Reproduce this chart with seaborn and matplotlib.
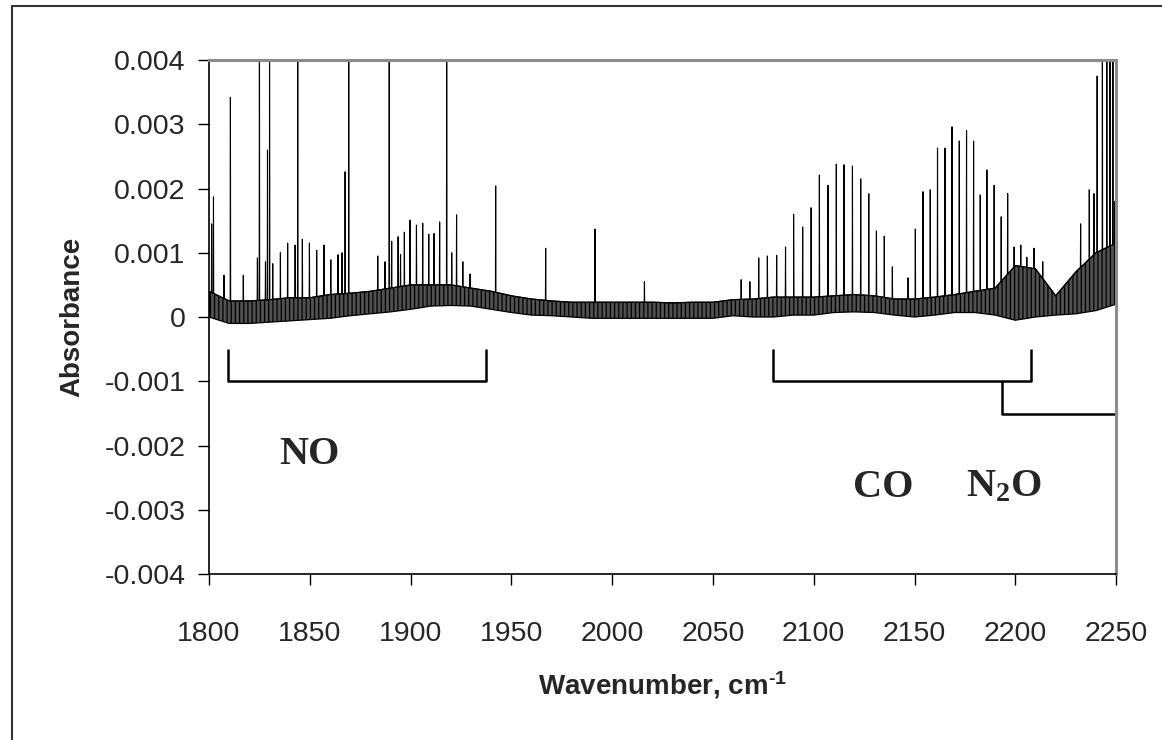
import matplotlib
matplotlib.use("Agg")
import matplotlib.pyplot as plt
import numpy as np
import pandas as pd
import seaborn as sns

# baseline noise band, read every 10 cm-1 (absorbance x 1e-3)
env_x = [1800, 1810, 1820, 1830, 1840, 1850, 1860, 1870, 1880, 1890,
         1900, 1910, 1920, 1930, 1940, 1950, 1960, 1970, 1980, 1990,
         2000, 2010, 2020, 2030, 2040, 2050, 2060, 2070, 2080, 2090,
         2100, 2110, 2120, 2130, 2140, 2150, 2160, 2170, 2180, 2190,
         2200, 2210, 2220, 2230, 2240, 2250]
env_lo = [0.00, -0.10, -0.10, -0.08, -0.06, -0.04, -0.02, 0.02, 0.05, 0.08,
          0.12, 0.17, 0.18, 0.17, 0.12, 0.07, 0.03, 0.02, 0.00, -0.02,
          -0.02, -0.02, -0.02, -0.02, -0.02, -0.02, 0.02, 0.00, 0.00, 0.03,
          0.03, 0.07, 0.08, 0.07, 0.03, 0.00, 0.03, 0.07, 0.07, 0.03,
          -0.05, 0.00, 0.03, 0.05, 0.10, 0.20]
env_hi = [0.40, 0.25, 0.25, 0.27, 0.30, 0.30, 0.35, 0.37, 0.40, 0.45,
          0.50, 0.50, 0.50, 0.45, 0.40, 0.33, 0.28, 0.25, 0.23, 0.23,
          0.23, 0.23, 0.23, 0.22, 0.23, 0.23, 0.27, 0.28, 0.31, 0.31,
          0.31, 0.33, 0.35, 0.33, 0.28, 0.28, 0.31, 0.35, 0.40, 0.45,
          0.80, 0.75, 0.33, 0.70, 1.00, 1.15]

# absorption lines (position cm-1, peak absorbance x 1e-3)
peak_x = [1801.3, 1802.2, 1807.4, 1810.6, 1817.0, 1824.0, 1825.0, 1828.0, 1829.0, 1830.0,
          1831.6, 1835.4, 1839.0, 1842.7, 1844.0, 1846.3, 1849.8, 1853.4, 1857.0, 1860.4,
          1864.0, 1866.0, 1867.5, 1869.3, 1883.7, 1887.3, 1889.4, 1890.6, 1893.8, 1895.0,
          1896.9, 1899.7, 1902.9, 1906.0, 1909.0, 1911.6, 1914.4, 1917.9, 1920.4, 1922.8,
          1925.9, 1929.5, 1942.2, 1967.0, 1991.5, 2016.0, 2064.0, 2068.3, 2072.7, 2077.0,
          2081.6, 2086.0, 2090.0, 2094.5, 2098.7, 2102.8, 2107.1, 2111.2, 2115.0, 2119.2,
          2123.3, 2127.3, 2131.1, 2135.0, 2139.0, 2146.8, 2150.4, 2154.2, 2157.8, 2161.4,
          2165.1, 2168.6, 2172.2, 2175.8, 2179.3, 2182.6, 2185.9, 2189.5, 2193.0, 2196.2,
          2199.4, 2202.7, 2205.7, 2209.3, 2213.6, 2232.4, 2236.7, 2239.0, 2240.6, 2243.2,
          2245.4, 2247.0, 2248.4, 2249.3]
peak_y = [1.45, 1.87, 0.65, 3.42, 0.65, 0.92, 5.0, 0.86, 2.60, 5.0,
          0.83, 1.00, 1.15, 1.12, 5.0, 1.21, 1.15, 1.04, 1.12, 0.89,
          0.97, 1.00, 2.26, 5.0, 0.95, 0.86, 5.0, 1.18, 1.25, 0.97,
          1.32, 1.51, 1.43, 1.46, 1.29, 1.30, 1.48, 5.0, 1.00, 1.59,
          0.86, 0.67, 2.04, 1.07, 1.37, 0.55, 0.58, 0.55, 0.92, 0.95,
          0.96, 1.09, 1.60, 1.40, 1.70, 2.21, 2.05, 2.38, 2.37, 2.35,
          2.15, 1.92, 1.34, 1.26, 0.78, 0.61, 1.37, 1.95, 1.98, 2.63,
          2.63, 2.96, 2.74, 2.90, 2.74, 1.90, 2.29, 2.05, 1.56, 1.92,
          1.09, 1.12, 0.93, 1.07, 0.86, 1.45, 1.98, 1.92, 3.75, 5.0,
          5.0, 5.0, 5.0, 1.80]

y_ticks = [-0.004, -0.003, -0.002, -0.001, 0, 0.001, 0.002, 0.003, 0.004]
y_tick_labels = ["-0.004", "-0.003", "-0.002", "-0.001", "0",
                 "0.001", "0.002", "0.003", "0.004"]
x_ticks = [1800, 1850, 1900, 1950, 2000, 2050, 2100, 2150, 2200, 2250]

sns.set_style("white")
plt.rcParams["font.family"] = ["Liberation Sans", "DejaVu Sans"]
plt.rcParams["mathtext.default"] = "regular"
plt.rcParams["hatch.linewidth"] = 0.9

ex = np.array(env_x, dtype=float)
lo = np.array(env_lo) * 1e-3
hi = np.array(env_hi) * 1e-3
px = np.array(peak_x)
py = np.array(peak_y) * 1e-3

# one trace: upper edge of the band with the lines sticking out of it
base = np.interp(px, ex, hi)
tx = np.concatenate([ex, px - 0.12, px, px + 0.12])
ty = np.concatenate([hi, base, py, base])
order = np.argsort(tx, kind="stable")
trace = pd.DataFrame({"wavenumber": tx[order], "absorbance": ty[order]})

fig = plt.figure(figsize=(11.62, 7.4), dpi=100)
ax = fig.add_axes([0.1799, 0.2243, 0.7806, 0.6946])

ax.fill_between(ex, lo, hi, facecolor="#505050", edgecolor="black",
                hatch="||||", lw=0.9)
sns.lineplot(data=trace, x="wavenumber", y="absorbance", sort=False,
             estimator=None, color="black", lw=0.8, ax=ax)

ax.set_xlim(1800, 2250)
ax.set_ylim(-0.004, 0.004)
ax.set_xticks(x_ticks)
ax.set_xticklabels([str(t) for t in x_ticks])
ax.set_yticks(y_ticks)
ax.set_yticklabels(y_tick_labels)
ax.tick_params(axis="both", direction="out", length=8, width=1, color="black",
               labelsize=20.5, left=True, bottom=True)
ax.tick_params(axis="y", pad=9)
ax.tick_params(axis="x", pad=26)

for side in ["left", "bottom"]:
    ax.spines[side].set_color("black")
    ax.spines[side].set_linewidth(1.2)
for side in ["top", "right"]:
    ax.spines[side].set_color("#8c8c8c")
    ax.spines[side].set_linewidth(2.2)

ax.set_xlabel("Wavenumber, cm$^{\u2010 1}$", fontsize=20, fontweight="bold",
              labelpad=16)
ax.set_ylabel("Absorbance", fontsize=20, fontweight="bold", labelpad=14)

# band brackets
bk = dict(color="black", lw=1.8, clip_on=False, solid_capstyle="butt")
ax.plot([1809.4, 1809.4, 1937.4, 1937.4], [-0.0005, -0.001, -0.001, -0.0005], **bk)
ax.plot([2079.7, 2079.7, 2207.7, 2207.7], [-0.0005, -0.001, -0.001, -0.0005], **bk)
ax.plot([2193.3, 2193.3, 2250], [-0.001, -0.00151, -0.00151], **bk)

lab = dict(fontsize=29, fontweight="bold", family="Liberation Serif",
           ha="center", va="center")
ax.text(1850, -0.00214, "NO", **lab)
ax.text(2134.4, -0.00265, "CO", **lab)
ax.text(2194.3, -0.00265, "N$_2$O", **lab)

# outer frame of the chart area
fig.add_artist(plt.Line2D([12 / 1162, 12 / 1162], [0, 1 - 6 / 740],
                          transform=fig.transFigure, color="#333333", lw=1.5))
fig.add_artist(plt.Line2D([12 / 1162, 1], [1 - 6 / 740, 1 - 6 / 740],
                          transform=fig.transFigure, color="#333333", lw=1.5))

fig.savefig("out.png", dpi=100)
